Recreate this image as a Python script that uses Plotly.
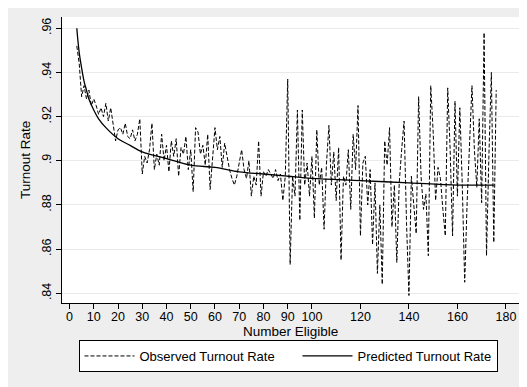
import plotly.graph_objects as go

# Observed turnout rate by number eligible
obs_x = list(range(3, 177))
obs_y = [
    .952, .944, .929, .934, .928, .932, .925, .928, .925, .921,
    .924, .920, .926, .918, .924, .917, .909, .914, .915, .912,
    .917, .911, .910, .914, .909, .912, .919, .894, .902, .899,
    .905, .917, .896, .903, .898, .912, .900, .907, .895, .909,
    .902, .910, .893, .906, .903, .911, .896, .905, .886, .915,
    .913, .903, .907, .898, .912, .887, .903, .915, .905, .911,
    .897, .908, .902, .896, .892, .889, .893, .899, .905, .896,
    .892, .900, .884, .893, .889, .909, .884, .895, .893, .896,
    .894, .892, .896, .891, .894, .882, .893, .937, .853, .893,
    .884, .923, .873, .923, .889, .899, .884, .902, .874, .914,
    .889, .897, .869, .899, .916, .889, .904, .882, .906, .855,
    .893, .889, .905, .878, .912, .896, .925, .866, .899, .902,
    .880, .896, .862, .890, .849, .880, .844, .909, .898, .915,
    .870, .889, .854, .890, .905, .918, .872, .839, .893, .880,
    .867, .929, .893, .878, .885, .857, .934, .913, .882, .897,
    .892, .878, .866, .933, .905, .866, .927, .884, .924, .889,
    .845, .881, .905, .934, .905, .888, .919, .881, .958, .857,
    .903, .940, .863, .932,
]

# Predicted turnout rate
pred_x = [3, 4, 5, 6, 7, 8, 10, 12, 15, 20, 25, 30, 40, 50, 60, 70, 80,
          90, 100, 120, 140, 160, 175]
pred_y = [.960, .949, .942, .936, .932, .928, .923, .919, .915, .910, .907,
          .904, .901, .898, .897, .895, .894, .893, .892, .891, .890, .889,
          .889]

x_ticks = [0, 10, 20, 30, 40, 50, 60, 70, 80, 90, 100, 120, 140, 160, 180]
y_ticks = [.84, .86, .88, .90, .92, .94, .96]
y_labels = [".84", ".86", ".88", ".9", ".92", ".94", ".96"]

fig = go.Figure()
fig.add_trace(go.Scatter(
    x=obs_x, y=obs_y, mode="lines", name="Observed Turnout Rate",
    line=dict(color="black", width=1, dash="4px,2px"), legendwidth=153,
))
fig.add_trace(go.Scatter(
    x=pred_x, y=pred_y, mode="lines", name="Predicted Turnout Rate",
    line=dict(color="black", width=1.3, shape="spline"),
))

# page body adds an 8px offset; figure laid out in its own pixels
W, H = 519, 379
L, T, R, B = 54, 9, 8, 84
pw, ph = W - L - R, H - T - B

font_family = "Liberation Sans, Arial, sans-serif"
fig.update_layout(
    width=W, height=H,
    margin=dict(l=L, r=R, t=T, b=B, autoexpand=False),
    paper_bgcolor="#eeeeee",
    plot_bgcolor="white",
    font=dict(family=font_family, size=12, color="black"),
    showlegend=True,
    legend=dict(
        orientation="h", x=(280 - L) / pw, xanchor="center",
        y=(ph + T - 332) / ph, yanchor="top",
        bgcolor="white", bordercolor="black", borderwidth=1,
        font=dict(size=13), itemwidth=50,
    ),
    annotations=[
        dict(text="Number Eligible", x=0.5, xref="paper",
             y=(ph + T - 323.5) / ph, yref="paper", yanchor="middle",
             showarrow=False, font=dict(size=13.5)),
        dict(text="Turnout Rate", x=(17 - L) / pw, xref="paper",
             xanchor="center", y=0.5, yref="paper", yanchor="middle",
             showarrow=False, textangle=-90, font=dict(size=13.5)),
    ],
)

fig.update_xaxes(
    range=[-3.1, 185.4], tickvals=x_ticks, ticktext=[str(v) for v in x_ticks],
    showgrid=False, zeroline=False, showline=True, linecolor="black",
    linewidth=1, ticks="outside", ticklen=5, tickcolor="black",
    tickfont=dict(size=12.5), automargin=False, ticklabelstandoff=-3,
)
fig.update_yaxes(
    range=[.8356, .9651], tickvals=y_ticks, ticktext=y_labels, tickangle=-90,
    showgrid=True, gridcolor="#eaeaea", gridwidth=1, zeroline=False,
    showline=True, linecolor="black", linewidth=1, ticks="outside",
    ticklen=5, tickcolor="black", tickfont=dict(size=12.5), automargin=False,
)

fig.write_html("out.html")
